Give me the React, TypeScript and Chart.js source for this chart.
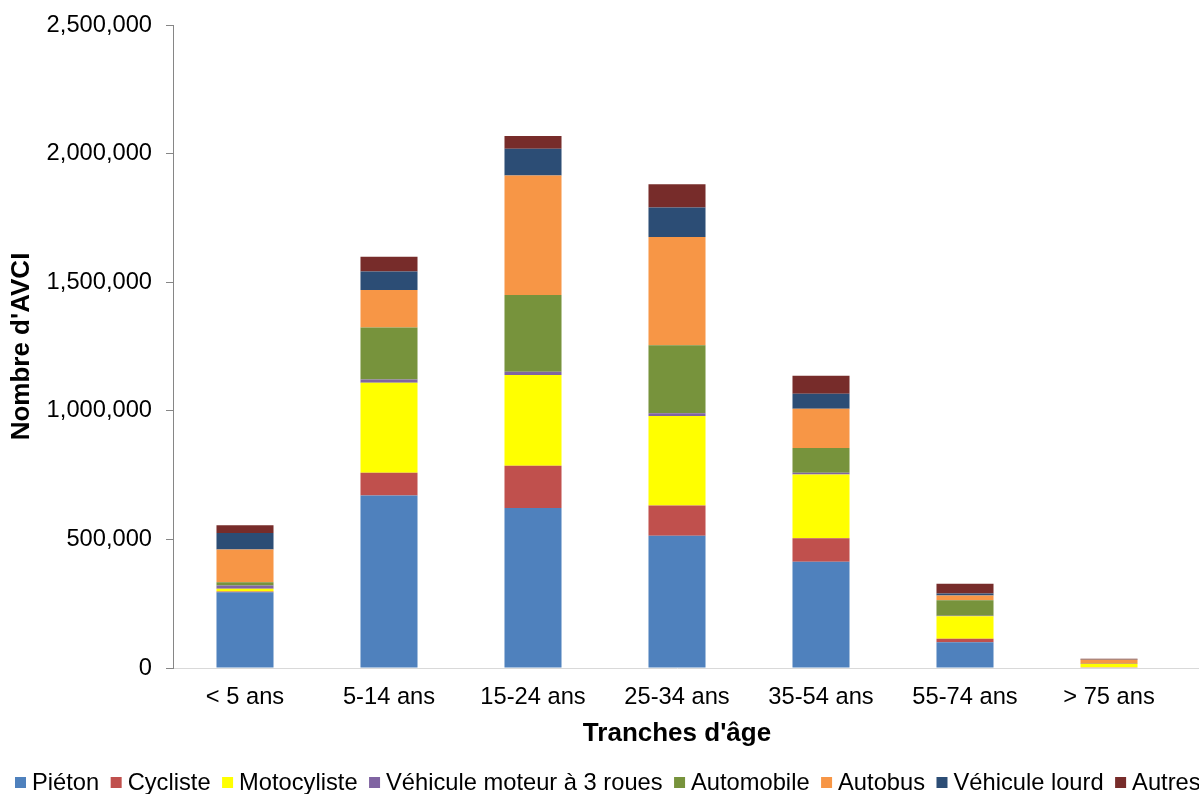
import React, { useEffect, useRef } from "react";
import { Chart, registerables } from "chart.js";

Chart.register(...registerables);

const CATEGORIES = ["< 5 ans", "5-14 ans", "15-24 ans", "25-34 ans", "35-54 ans", "55-74 ans", "> 75 ans"];

const PIETON = [295000, 671000, 622000, 514000, 413000, 100000, 2000];
const CYCLISTE = [2000, 88000, 164000, 118000, 91000, 14000, 1000];
const MOTOCYCLISTE = [11000, 350000, 353000, 348000, 248000, 87000, 13000];
const TROIS_ROUES = [13000, 13000, 13000, 10000, 7000, 2000, 0];
const AUTOMOBILE = [12000, 202000, 298000, 265000, 96000, 60000, 1000];
const AUTOBUS = [128000, 146000, 465000, 421000, 153000, 19000, 15000];
const VEHICULE_LOURD = [64000, 72000, 104000, 114000, 58000, 8000, 1000];
const AUTRES = [30000, 57000, 49000, 91000, 70000, 38000, 3000];

const SERIES_LABELS = [
  "Piéton",
  "Cycliste",
  "Motocyliste",
  "Véhicule moteur à 3 roues",
  "Automobile",
  "Autobus",
  "Véhicule lourd",
  "Autres",
];
const SERIES_COLORS = ["#4F81BD", "#C0504D", "#FFFF00", "#8064A2", "#77933C", "#F79646", "#2C4D75", "#772C2A"];
const SERIES_VALUES = [PIETON, CYCLISTE, MOTOCYCLISTE, TROIS_ROUES, AUTOMOBILE, AUTOBUS, VEHICULE_LOURD, AUTRES];

const Y_MIN = 0;
const Y_MAX = 2500000;
const Y_STEP = 500000;

const FAMILY = "'Liberation Sans', Arial, Helvetica, sans-serif";
const TICK_SIZE = 23.7;
const TITLE_SIZE = 26;

const legendPlugin = {
  id: "bottomLegend",
  afterDraw(chart: any) {
    const ctx = chart.ctx as CanvasRenderingContext2D;
    const area = chart.chartArea;
    ctx.save();
    // extend the horizontal axis line to the right edge
    ctx.strokeStyle = "#d9d9d9";
    ctx.lineWidth = 1;
    ctx.beginPath();
    ctx.moveTo(area.right, Math.round(area.bottom) + 0.5);
    ctx.lineTo(chart.width, Math.round(area.bottom) + 0.5);
    ctx.stroke();

    ctx.font = `${TICK_SIZE}px ${FAMILY}`;
    ctx.textBaseline = "middle";
    ctx.textAlign = "left";
    let x = 15;
    const y = 783;
    chart.data.datasets.forEach((ds: any) => {
      ctx.fillStyle = ds.backgroundColor;
      ctx.fillRect(x, y - 6, 11, 11);
      x += 17;
      ctx.fillStyle = "#000";
      ctx.fillText(ds.label, x, y);
      x += ctx.measureText(ds.label).width + 11.5;
    });
    ctx.restore();
  },
};

export default function App() {
  const canvasRef = useRef<HTMLCanvasElement | null>(null);

  useEffect(() => {
    if (!canvasRef.current) return;
    const chart = new Chart(canvasRef.current, {
      type: "bar",
      data: {
        labels: CATEGORIES,
        datasets: SERIES_LABELS.map((label, i) => ({
          label,
          data: SERIES_VALUES[i],
          backgroundColor: SERIES_COLORS[i],
          borderWidth: 0,
          barPercentage: 0.396,
          categoryPercentage: 1,
        })),
      },
      options: {
        animation: false,
        responsive: false,
        devicePixelRatio: 1,
        layout: { padding: { top: 25, right: 18, bottom: 41, left: 0 } },
        plugins: {
          legend: { display: false },
          tooltip: { enabled: false },
        },
        scales: {
          x: {
            stacked: true,
            grid: { display: false, drawTicks: false },
            border: { display: true, color: "#d9d9d9", width: 1 },
            ticks: {
              padding: 15,
              color: "#000",
              maxRotation: 0,
              autoSkip: false,
              font: { size: TICK_SIZE, family: FAMILY },
            },
            title: {
              display: true,
              text: "Tranches d'âge",
              color: "#000",
              font: { size: TITLE_SIZE, weight: "bold", family: FAMILY },
              padding: { top: 0, bottom: 4 },
            },
            afterFit: (s: any) => {
              s.height = 85;
            },
          },
          y: {
            stacked: true,
            min: Y_MIN,
            max: Y_MAX,
            ticks: {
              stepSize: Y_STEP,
              padding: 14,
              color: "#000",
              font: { size: TICK_SIZE, family: FAMILY },
              callback: (v: any) => Number(v).toLocaleString("en-US"),
            },
            grid: {
              display: true,
              drawOnChartArea: false,
              drawTicks: true,
              tickLength: 7,
              color: "#868686",
            },
            border: { display: true, color: "#868686", width: 1 },
            title: {
              display: true,
              text: "Nombre d'AVCI",
              color: "#000",
              font: { size: TITLE_SIZE, weight: "bold", family: FAMILY },
              padding: { top: 6, bottom: 0 },
            },
            afterFit: (s: any) => {
              s.width = 173;
              s.paddingTop = 0;
              s.paddingBottom = 0;
            },
          },
        },
      },
      plugins: [legendPlugin],
    } as any);
    return () => chart.destroy();
  }, []);

  return (
    <div style={{ position: "absolute", left: 0, top: 0, width: 1199, height: 794, background: "#fff", overflow: "hidden" }}>
      <canvas ref={canvasRef} width={1199} height={794} style={{ display: "block" }} />
    </div>
  );
}
